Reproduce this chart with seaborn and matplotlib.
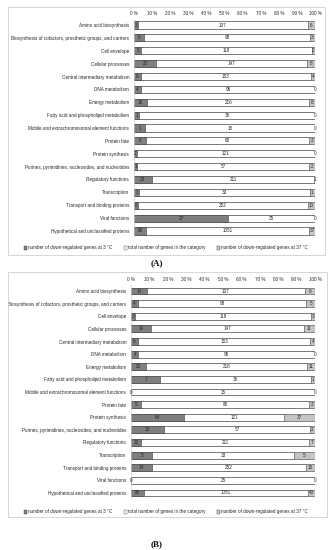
import numpy as np
import pandas as pd
import matplotlib
matplotlib.use("Agg")
import matplotlib.pyplot as plt
import seaborn as sns
from matplotlib.patches import Patch, Rectangle

categories = [
    "Amino acid biosynthesis",
    "Biosynthesis of cofactors, prosthetic groups, and carriers",
    "Cell envelope",
    "Cellular processes",
    "Central intermediary metabolism",
    "DNA metabolism",
    "Energy metabolism",
    "Fatty acid and phospholipid metabolism",
    "Mobile and extrachromosomal element functions",
    "Protein fate",
    "Protein synthesis",
    "Purines, pyrimidines, nucleosides, and nucleotides",
    "Regulatory functions",
    "Transcription",
    "Transport and binding proteins",
    "Viral functions",
    "Hypothetical and unclassified proteins",
]
total_genes = [137, 98, 118, 147, 153, 95, 216, 36, 15, 80, 121, 57, 211, 33, 252, 25, 1051]
a_down_3c = [3, 6, 5, 22, 6, 4, 18, 1, 1, 6, 2, 1, 23, 1, 6, 27, 80]
a_down_37c = [6, 3, 2, 8, 4, 0, 8, 0, 0, 3, 0, 2, 1, 1, 10, 0, 37]
b_down_3c = [14, 4, 3, 19, 6, 4, 20, 7, 0, 5, 64, 13, 12, 5, 34, 0, 80]
b_down_37c = [9, 5, 3, 11, 4, 0, 11, 1, 0, 3, 37, 2, 7, 5, 15, 0, 43]
tick_values = [0, 10, 20, 30, 40, 50, 60, 70, 80, 90, 100]
tick_labels = ["0 %", "10 %", "20 %", "30 %", "40 %", "50 %", "60 %", "70 %", "80 %", "90 %", "100 %"]
legend_labels = [
    "number of down-regulated genes at 3 \u00b0C",
    "total number of genes in the category",
    "number of down-regulated genes at 37 \u00b0C",
]

DARK = "#7f7f7f"
LIGHT = "#c4c4c4"
EDGE = "#404040"
TXT = "#262626"
FS = 3.3

sns.set_style("white")
plt.rcParams["font.family"] = ["Liberation Sans", "DejaVu Sans"]

fig = plt.figure(figsize=(3.35, 5.5), dpi=100)
W, H = 335.0, 550.0


def fig_rect(x0, y0, x1, y1):
    return [x0 / W, 1 - y1 / H, (x1 - x0) / W, (y1 - y0) / H]


def panel(ax, cold, total, warm):
    df = pd.DataFrame({"category": categories, "cold": cold, "total": total, "warm": warm})
    s = df[["cold", "total", "warm"]].sum(axis=1)
    df["p1"] = df["cold"] / s * 100
    df["p2"] = (df["cold"] + df["total"]) / s * 100
    df["p3"] = (df["cold"] + df["total"] + df["warm"]) / s * 100
    kw = dict(data=df, y="category", orient="h", width=0.55, edgecolor=EDGE,
              linewidth=0.4, saturation=1, ax=ax, errorbar=None)
    sns.barplot(x="p3", color=LIGHT, **kw)
    sns.barplot(x="p2", color="white", **kw)
    sns.barplot(x="p1", color=DARK, **kw)
    for i, r in df.iterrows():
        ax.text(r.p1 / 2, i, str(r.cold), ha="center", va="center", fontsize=FS, color=TXT)
        ax.text((r.p1 + r.p2) / 2, i, str(r.total), ha="center", va="center", fontsize=FS, color=TXT)
        ax.text((r.p2 + r.p3) / 2, i, str(r.warm), ha="center", va="center", fontsize=FS, color=TXT)
    ax.set_xlim(0, 100)
    ax.set_ylim(len(categories) - 0.5, -0.5)
    ax.set_xticks(tick_values)
    ax.set_xticklabels(tick_labels)
    ax.xaxis.tick_top()
    ax.tick_params(axis="x", length=0, pad=2, labelsize=FS, colors=TXT)
    ax.tick_params(axis="y", length=0, pad=3.5, labelsize=FS, colors=TXT)
    ax.set_xlabel("")
    ax.set_ylabel("")
    for sp in ["top", "right", "bottom"]:
        ax.spines[sp].set_visible(False)
    ax.spines["left"].set_color("#d0d0d0")
    ax.spines["left"].set_linewidth(0.5)


axA = fig.add_axes(fig_rect(134, 18.6, 315, 237.4))
panel(axA, a_down_3c, total_genes, a_down_37c)
axB = fig.add_axes(fig_rect(131, 284.7, 315, 499.3))
panel(axB, b_down_3c, total_genes, b_down_37c)

handles = [
    Patch(facecolor=DARK, edgecolor=EDGE, linewidth=0.3),
    Patch(facecolor="white", edgecolor=EDGE, linewidth=0.3),
    Patch(facecolor=LIGHT, edgecolor=EDGE, linewidth=0.3),
]
for yc in (248, 512):
    fig.legend(handles, legend_labels, loc="center", bbox_to_anchor=(166 / W, 1 - yc / H),
               ncol=3, frameon=False, fontsize=FS, handlelength=0.8, handleheight=0.8,
               handletextpad=0.2, columnspacing=2.4, labelcolor=TXT)

for (x0, y0, x1, y1) in [(8, 7, 325, 255), (8, 272, 327, 517)]:
    fig.patches.append(Rectangle((x0 / W, 1 - y1 / H), (x1 - x0) / W, (y1 - y0) / H,
                                 transform=fig.transFigure, fill=False,
                                 edgecolor="#d0d0d0", linewidth=0.6))

fig.text(157 / W, 1 - 263 / H, "(A)", ha="center", va="center", fontsize=6.5,
         family=["Liberation Serif", "DejaVu Serif"], fontweight="bold", color="#111111")
fig.text(157 / W, 1 - 544 / H, "(B)", ha="center", va="center", fontsize=6.5,
         family=["Liberation Serif", "DejaVu Serif"], fontweight="bold", color="#111111")

fig.savefig("out.png", dpi=100, facecolor="white")
